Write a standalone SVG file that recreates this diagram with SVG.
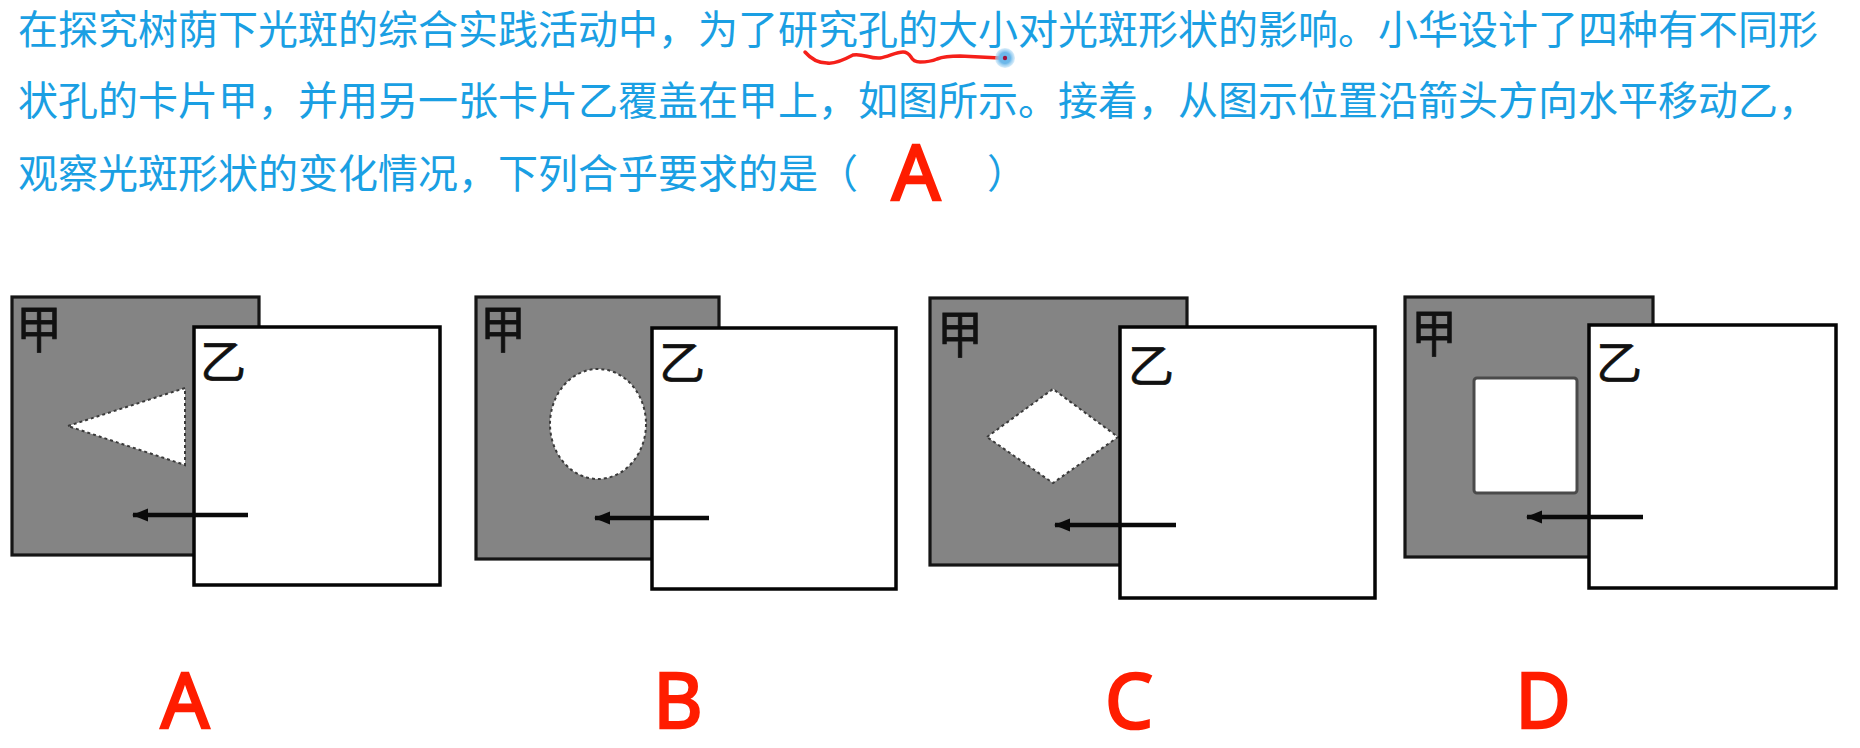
<svg xmlns="http://www.w3.org/2000/svg" width="1860" height="748" viewBox="0 0 1860 748">
<defs>
<marker id="head" viewBox="0 0 16 14" refX="15" refY="7" markerUnits="userSpaceOnUse" markerWidth="16" markerHeight="14" orient="auto"><path d="M0 0.5 L16 7 L0 13.5 Z" fill="#0a0a0a"/></marker>
<radialGradient id="halo"><stop offset="0.55" stop-color="#6db8ea"/><stop offset="1" stop-color="#b5dcf5" stop-opacity="0.5"/></radialGradient>
</defs>
<style>
.q{font-family:"Noto Sans CJK SC","Liberation Sans",sans-serif;font-size:40px;fill:#1a9fe3}
.ans{font-family:"Noto Sans","Liberation Sans",sans-serif;font-size:76px;fill:#ff1d00;stroke:#ff1d00;stroke-width:2.5;text-anchor:middle}
.jia{fill:#848484;stroke:#151515;stroke-width:3.2}
.yi{fill:#fff;stroke:#050505;stroke-width:3.5}
.hole{fill:#fff;stroke:#3a3a3a;stroke-width:2;stroke-dasharray:3 3}
.lab{font-family:"Noto Sans CJK SC",sans-serif;font-size:46px;fill:#111;stroke:#111;stroke-width:0.7;text-anchor:middle}
.arrow{stroke:#0a0a0a;stroke-width:4.5;fill:none;marker-end:url(#head)}
</style>
<rect width="1860" height="748" fill="#fff"/>
<g id="question">
<text class="q" x="18" y="44">在探究树荫下光斑的综合实践活动中，为了研究孔的大小对光斑形状的影响。小华设计了四种有不同形</text>
<text class="q" x="18" y="115">状孔的卡片甲，并用另一张卡片乙覆盖在甲上，如图所示。接着，从图示位置沿箭头方向水平移动乙，</text>
<text class="q" x="18" y="188">观察光斑形状的变化情况，下列合乎要求的是（</text>
<text class="q" x="987" y="188">）</text>
<text class="ans" x="916" y="200">A</text>
</g>
<g id="mark">
<path d="M805 52 C811 59 818 63 827 63 C833 64 840 62 853 55 C862 53 870 59 880 58 C888 57 896 52 903 52 C907 52 909 54 911 57 C913 61 916 62 920 62 C926 62 930 62 937 59 C945 56 953 56 960 56 L1000 58" fill="none" stroke="#f5201a" stroke-width="3.5" stroke-linecap="round"/>
<circle cx="1005" cy="58" r="10" fill="url(#halo)"/>
<circle cx="1005" cy="58" r="2.2" fill="#a0143c"/>
</g>
<g id="card-a">
<rect class="jia" x="12" y="297" width="247" height="258"/>
<path class="hole" d="M68 426 L185 388 L185 465 Z"/>
<rect class="yi" x="194" y="327" width="246" height="258"/>
<text class="lab" transform="translate(39 348) scale(1 1.12)">甲</text>
<text class="lab" x="223" y="378">乙</text>
</g>
<g id="card-b">
<rect class="jia" x="476" y="297" width="243" height="262"/>
<ellipse class="hole" cx="598" cy="424" rx="48" ry="55"/>
<rect class="yi" x="652" y="328" width="244" height="261"/>
<text class="lab" transform="translate(503 348) scale(1 1.12)">甲</text>
<text class="lab" x="682" y="379">乙</text>
</g>
<g id="card-c">
<rect class="jia" x="930" y="298" width="257" height="267"/>
<path class="hole" d="M987 437 L1053 389 L1118 437 L1053 483 Z"/>
<rect class="yi" x="1120" y="327" width="255" height="271"/>
<text class="lab" transform="translate(960 353) scale(1 1.12)">甲</text>
<text class="lab" x="1151" y="382">乙</text>
</g>
<g id="card-d">
<rect class="jia" x="1405" y="297" width="248" height="260"/>
<rect x="1474" y="378" width="103" height="115" rx="3" fill="#fff" stroke="#4a4a4a" stroke-width="3"/>
<rect class="yi" x="1589" y="325" width="247" height="263"/>
<text class="lab" transform="translate(1434 352) scale(1 1.12)">甲</text>
<text class="lab" x="1619" y="379">乙</text>
</g>
<g id="connectors">
<path class="arrow" d="M248 515 L133 515"/>
<path class="arrow" d="M709 518 L595 518"/>
<path class="arrow" d="M1176 525 L1055 525"/>
<path class="arrow" d="M1643 517 L1527 517"/>
</g>
<g id="options">
<text class="ans" x="185" y="728">A</text>
<text class="ans" x="678" y="728">B</text>
<text class="ans" x="1129" y="728">C</text>
<text class="ans" x="1543" y="728">D</text>
</g>
</svg>
